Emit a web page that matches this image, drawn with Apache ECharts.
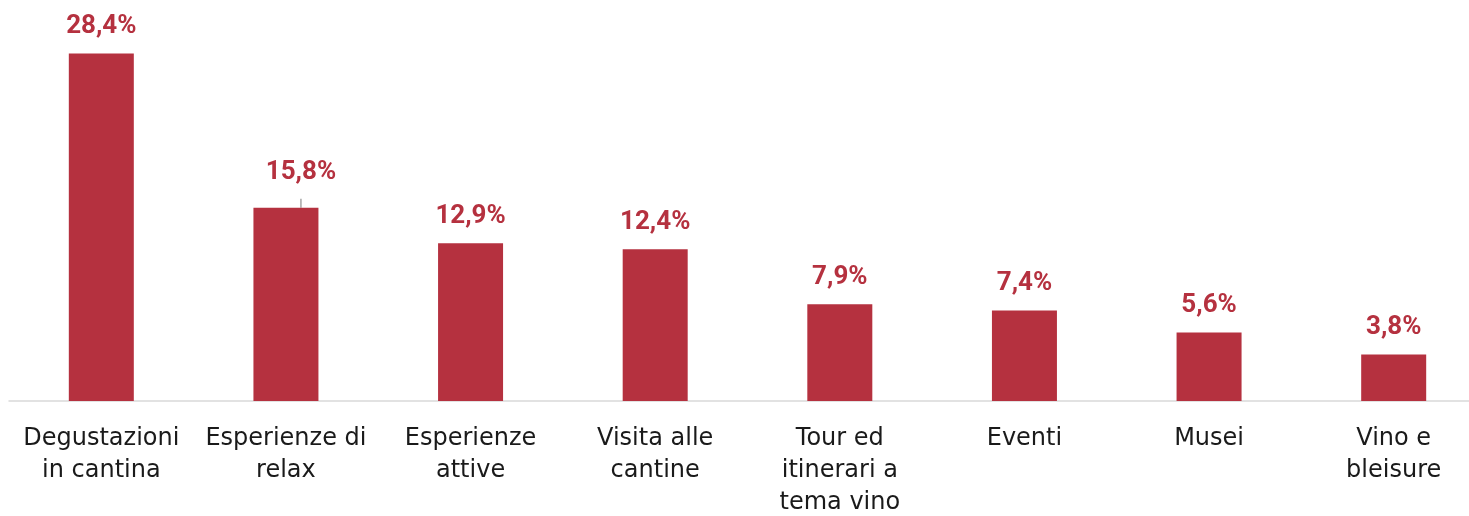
<!DOCTYPE html>
<html>
<head>
<meta charset="utf-8">
<script src="https://cdn.jsdelivr.net/npm/echarts@6/dist/echarts.min.js"></script>
<style>
  html, body { margin: 0; padding: 0; background: #fff; }
  #chart { width: 1469px; height: 516px; }
</style>
</head>
<body>
<div id="chart"></div>
<script>
  const categories = [
    'Degustazioni\nin cantina',
    'Esperienze di\nrelax',
    'Esperienze\nattive',
    'Visita alle\ncantine',
    'Tour ed\nitinerari a\ntema vino',
    'Eventi',
    'Musei',
    'Vino e\nbleisure'
  ]
  const values = [28.4, 15.8, 12.9, 12.4, 7.9, 7.4, 5.6, 3.8]

  const barColor = '#b5313f'

  const chart = echarts.init(document.getElementById('chart'))

  const seriesData = values.map((v, i) => {
    // l'etichetta 15,8% è spostata in alto con la linea guida
    if (i === 1) {
      return {
        value: v,
        label: { offset: [15, -8] },
        labelLine: { show: true, lineStyle: { color: '#a6a6a6', width: 1.5 } }
      }
    }
    return v
  })

  chart.setOption({
    animation: false,
    grid: { left: 9, right: -17, top: 34, bottom: 115, outerBoundsMode: 'none' },
    xAxis: {
      type: 'category',
      data: categories,
      axisTick: { show: false },
      axisLine: { lineStyle: { color: '#d9d9d9', width: 1.5 } },
      axisLabel: {
        interval: 0,
        margin: 22,
        color: '#1a1a1a',
        fontSize: 24,
        lineHeight: 32,
        fontFamily: 'DejaVu Sans'
      }
    },
    yAxis: {
      type: 'value',
      min: 0,
      max: 30,
      show: false,
      splitLine: { show: false }
    },
    series: [{
      type: 'bar',
      data: seriesData,
      barWidth: 65,
      itemStyle: { color: barColor },
      label: {
        show: true,
        position: 'top',
        distance: 14,
        color: barColor,
        fontWeight: 'bold',
        fontSize: 26,
        fontFamily: 'Roboto',
        formatter: (p) => p.value.toFixed(1).replace('.', ',') + '%'
      }
    }]
  })
</script>
</body>
</html>
